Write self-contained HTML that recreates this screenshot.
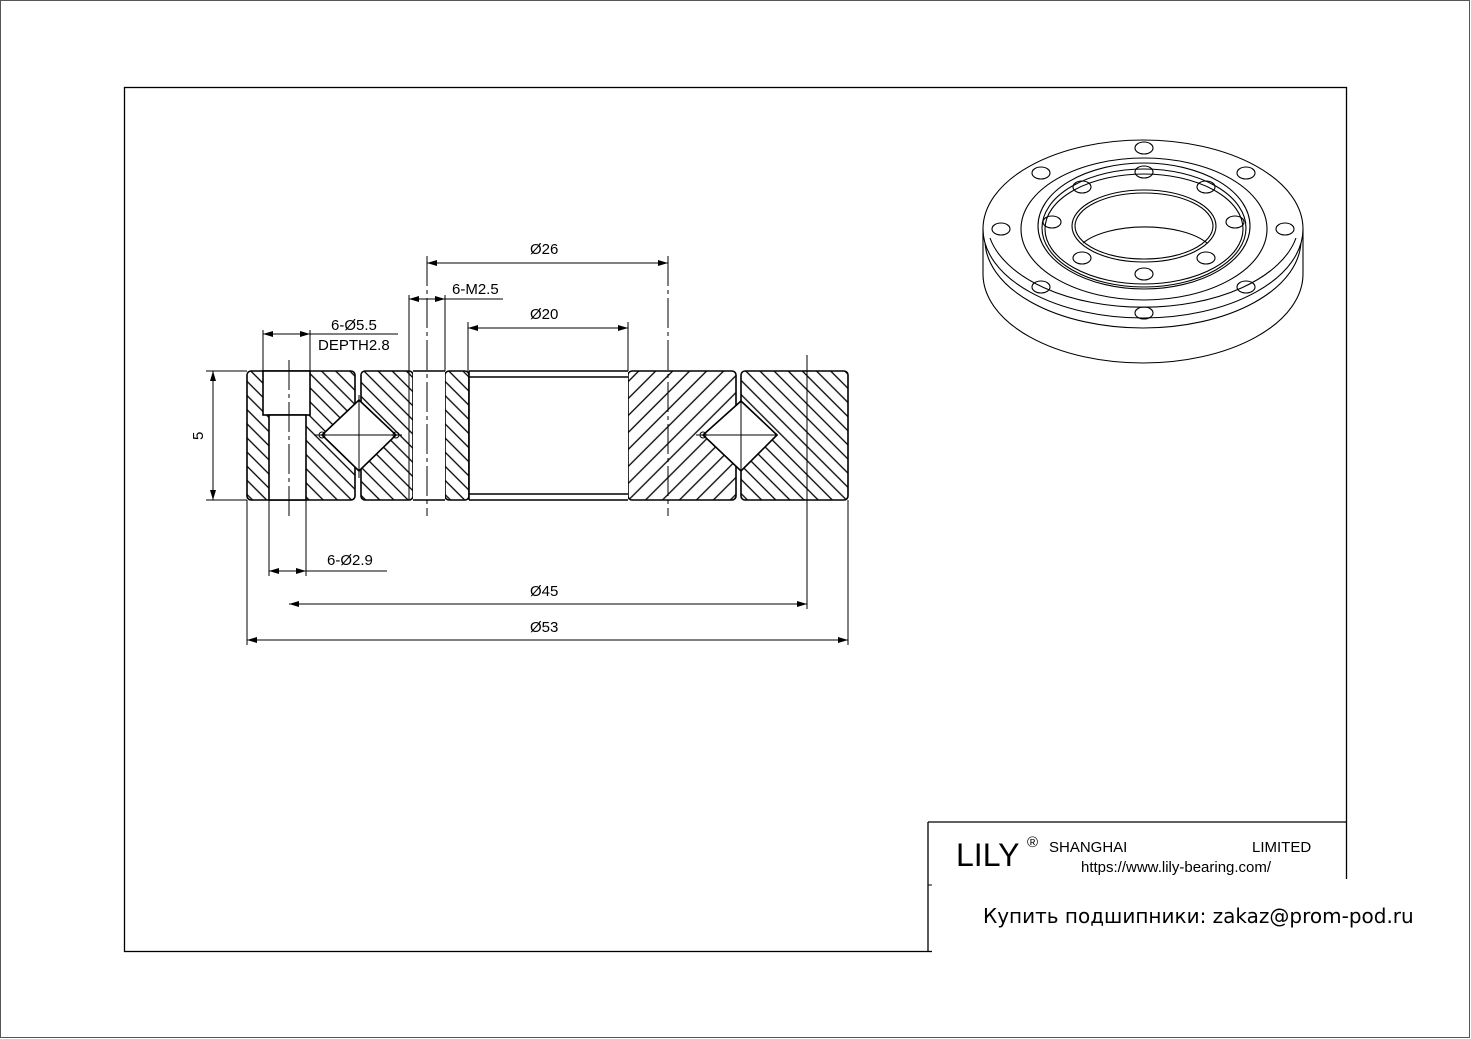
<!DOCTYPE html>
<html><head><meta charset="utf-8"><style>
html,body{margin:0;padding:0;background:#fff;}
svg{display:block;font-family:"Liberation Sans",sans-serif;}
</style></head><body>
<svg width="1471" height="1039" viewBox="0 0 1471 1039" xmlns="http://www.w3.org/2000/svg">
<defs>
<pattern id="hb" patternUnits="userSpaceOnUse" width="10" height="10" patternTransform="rotate(-45)"><line x1="5" y1="0" x2="5" y2="10" stroke="#000" stroke-width="1.3"/></pattern>
<pattern id="hf" patternUnits="userSpaceOnUse" width="12" height="12" patternTransform="rotate(45)"><line x1="6" y1="0" x2="6" y2="12" stroke="#000" stroke-width="1.3"/></pattern>
<marker id="a" viewBox="0 0 10 6" refX="10" refY="3" markerWidth="10" markerHeight="6" orient="auto-start-reverse" markerUnits="userSpaceOnUse"><path d="M0,0 L10,3 L0,6 z" fill="#000"/></marker>
</defs>
<rect x="0.5" y="0.5" width="1469" height="1037" fill="#fff" stroke="#555" stroke-width="1"/>
<rect x="124.5" y="87.5" width="1222" height="864" fill="none" stroke="#000" stroke-width="1.3"/>
<!-- title block -->
<line x1="928" y1="822" x2="1346" y2="822" stroke="#000" stroke-width="1.3"/>
<line x1="928" y1="822" x2="928" y2="951" stroke="#000" stroke-width="1.3"/>
<line x1="928" y1="885" x2="934" y2="885" stroke="#000" stroke-width="1"/>
<rect x="932" y="879" width="534" height="154" fill="#fff"/>
<text x="956" y="866" font-size="32">LILY</text>
<text x="1027" y="847" font-size="15">®</text>
<text x="1049" y="852" font-size="15">SHANGHAI</text>
<text x="1252" y="852" font-size="15">LIMITED</text>
<text x="1081" y="872" font-size="15">https://www.lily-bearing.com/</text>
<text x="983" y="923" font-size="20" font-family="'DejaVu Sans',sans-serif">Купить подшипники: zakaz@prom-pod.ru</text>

<!-- cross section -->
<g stroke="#000" stroke-width="1.6">
<rect x="247" y="371" width="108" height="129" rx="4" fill="url(#hb)"/>
<rect x="361" y="371" width="52" height="129" rx="4" fill="url(#hb)"/>
<rect x="445" y="371" width="24" height="129" rx="4" fill="url(#hb)"/>
<rect x="628" y="371" width="108" height="129" rx="4" fill="url(#hf)"/>
<rect x="741" y="371" width="107" height="129" rx="4" fill="url(#hb)"/>
<rect x="263" y="371" width="47" height="44" fill="#fff"/>
<rect x="269" y="415" width="37" height="85" fill="#fff"/>
<rect x="413" y="371" width="32" height="129" fill="#fff" stroke="none"/>
<line x1="413" y1="371" x2="445" y2="371"/><line x1="413" y1="500" x2="445" y2="500"/>
<line x1="409" y1="371" x2="409" y2="500" stroke-width="1"/>
<rect x="469" y="371" width="159" height="129" fill="#fff" stroke="none"/>
<line x1="469" y1="371" x2="628" y2="371"/><line x1="469" y1="500" x2="628" y2="500"/>
<line x1="469" y1="377" x2="628" y2="377"/><line x1="469" y1="494" x2="628" y2="494"/>
<line x1="469" y1="371" x2="469" y2="500"/>
<polygon points="359,400 396,435 359,471 322,435" fill="#fff"/>
<polygon points="741,401 777,435 741,471 703,435" fill="#fff"/>
<line x1="314" y1="435" x2="402" y2="435" stroke-width="1"/>
<line x1="696" y1="435" x2="778" y2="435" stroke-width="1"/>
<circle cx="322" cy="435" r="3" fill="none" stroke-width="1"/>
<circle cx="396" cy="435" r="3" fill="none" stroke-width="1"/>
<circle cx="703" cy="435" r="3" fill="none" stroke-width="1"/>
</g>
<g stroke="#000" stroke-width="1" fill="none">
<line x1="359" y1="395" x2="359" y2="478"/>
<line x1="741" y1="395" x2="741" y2="478"/>
<line x1="289" y1="360" x2="289" y2="520" stroke-dasharray="30,4,4,4"/>
<line x1="427" y1="256" x2="427" y2="516" stroke-dasharray="30,4,4,4"/>
<line x1="668" y1="256" x2="668" y2="516" stroke-dasharray="30,4,4,4"/>
<line x1="206" y1="371" x2="247" y2="371"/><line x1="206" y1="500" x2="247" y2="500"/>
<line x1="213" y1="371" x2="213" y2="500" marker-start="url(#a)" marker-end="url(#a)"/>
<line x1="427" y1="263" x2="668" y2="263" marker-start="url(#a)" marker-end="url(#a)"/>
<line x1="409" y1="295" x2="409" y2="371"/><line x1="445" y1="295" x2="445" y2="371"/>
<line x1="409" y1="299" x2="445" y2="299" marker-start="url(#a)" marker-end="url(#a)"/>
<line x1="445" y1="299" x2="503" y2="299"/>
<line x1="468" y1="322" x2="468" y2="371"/><line x1="628" y1="322" x2="628" y2="371"/>
<line x1="468" y1="328" x2="628" y2="328" marker-start="url(#a)" marker-end="url(#a)"/>
<line x1="263" y1="330" x2="263" y2="371"/><line x1="310" y1="330" x2="310" y2="371"/>
<line x1="263" y1="334" x2="310" y2="334" marker-start="url(#a)" marker-end="url(#a)"/>
<line x1="310" y1="334" x2="398" y2="334"/>
<line x1="269" y1="500" x2="269" y2="576"/><line x1="306" y1="500" x2="306" y2="576"/>
<line x1="269" y1="571" x2="306" y2="571" marker-start="url(#a)" marker-end="url(#a)"/>
<line x1="306" y1="571" x2="387" y2="571"/>
<line x1="807" y1="355" x2="807" y2="609"/>
<line x1="289" y1="604" x2="807" y2="604" marker-start="url(#a)" marker-end="url(#a)"/>
<line x1="247" y1="500" x2="247" y2="645"/><line x1="848" y1="500" x2="848" y2="645"/>
<line x1="247" y1="640" x2="848" y2="640" marker-start="url(#a)" marker-end="url(#a)"/>
</g>
<g font-size="15" fill="#000">
<text x="530" y="254">Ø26</text>
<text x="452" y="294">6-M2.5</text>
<text x="530" y="319">Ø20</text>
<text x="331" y="330">6-Ø5.5</text>
<text x="318" y="350">DEPTH2.8</text>
<text x="327" y="565">6-Ø2.9</text>
<text x="530" y="596">Ø45</text>
<text x="530" y="632">Ø53</text>
<text x="0" y="0" transform="translate(203,440) rotate(-90)">5</text>
</g>

<!-- 3D bearing -->
<g stroke="#000" stroke-width="1.1" fill="none">
<path d="M983,229 L983,274 A160,89 0 0 0 1303,274 L1303,229"/>
<path d="M985,240 A158,88 0 0 0 1301,240"/>
<ellipse cx="1143" cy="229" rx="160" ry="89" fill="#fff"/>
<path d="M990,238 A156,86 0 0 0 1296,238"/>
<ellipse cx="1144" cy="229" rx="123" ry="71"/>
<ellipse cx="1144" cy="226" rx="106" ry="63"/>
<ellipse cx="1144" cy="228" rx="102" ry="59"/>
<ellipse cx="1144" cy="229" rx="99" ry="55"/>
<ellipse cx="1144" cy="226" rx="72" ry="36"/>
<ellipse cx="1144" cy="226" rx="69" ry="33"/>
<path d="M1083,243 A70,30 0 0 1 1207,243"/>
<g>
<ellipse cx="1144" cy="148" rx="9" ry="6"/><ellipse cx="1041" cy="173" rx="9" ry="6"/><ellipse cx="1246" cy="173" rx="9" ry="6"/>
<ellipse cx="1001" cy="229" rx="9" ry="6"/><ellipse cx="1285" cy="229" rx="9" ry="6"/><ellipse cx="1041" cy="287" rx="9" ry="6"/>
<ellipse cx="1246" cy="287" rx="9" ry="6"/><ellipse cx="1144" cy="313" rx="9" ry="6"/>
<ellipse cx="1144" cy="172" rx="9" ry="6"/><ellipse cx="1082" cy="187" rx="9" ry="6"/><ellipse cx="1206" cy="187" rx="9" ry="6"/>
<ellipse cx="1052" cy="222" rx="9" ry="6"/><ellipse cx="1235" cy="222" rx="9" ry="6"/><ellipse cx="1082" cy="258" rx="9" ry="6"/>
<ellipse cx="1206" cy="258" rx="9" ry="6"/><ellipse cx="1144" cy="274" rx="9" ry="6"/>
</g>
</g>
</svg>
</body></html>
